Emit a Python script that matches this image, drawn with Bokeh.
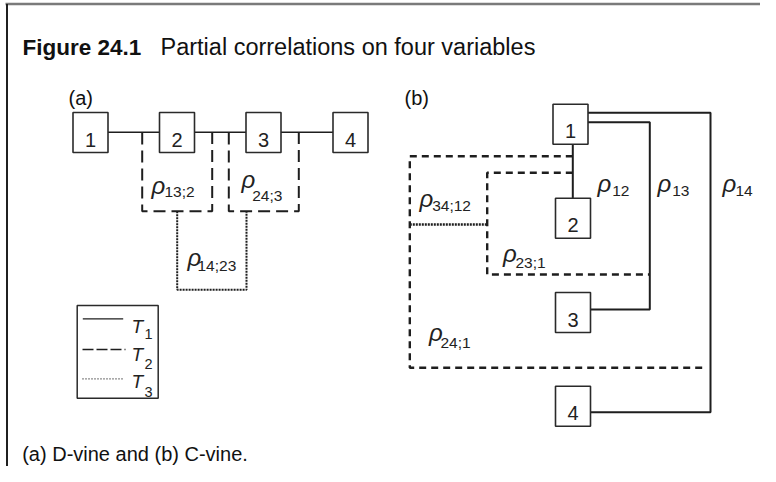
from bokeh.plotting import figure
from bokeh.models import Range1d
from bokeh.embed import file_html
from bokeh.resources import INLINE
from bokeh.core.properties import value

FONT = "Liberation Sans"
INK = "#1e1e1e"

# ---------------- data ----------------
title_bold = "Figure 24.1"
title_rest = "Partial correlations on four variables"
caption = "(a) D-vine and (b) C-vine."
panel_labels = ["(a)", "(b)"]
panel_label_x = [68, 404]
panel_label_y = [97, 97]

# panel (a): D-vine nodes
nodes_a = ["1", "2", "3", "4"]
nodes_a_x = [90, 176.5, 263, 350]
nodes_a_y = [132, 132, 132, 132]

# panel (b): C-vine nodes
nodes_b = ["1", "2", "3", "4"]
nodes_b_x = [570, 572.5, 572.5, 572.5]
nodes_b_y = [123.7, 217.8, 312, 405.8]

box_w = 35
box_h = 40

# tree T1 (solid) edges
t1_a_xs = [[107, 159], [194, 246], [280, 333]]
t1_a_ys = [[131.7, 131.7], [131.7, 131.7], [131.7, 131.7]]
t1_b_xs = [[587, 710, 710, 590], [587, 649.3, 649.3, 590], [572.3, 572.3]]
t1_b_ys = [[112.3, 112.3, 411.7, 411.7], [121.7, 121.7, 309, 309], [143.5, 198]]

# tree T2 (dashed) edges
t2_a_xs = [[141.7, 141.7, 211.7, 211.7], [228.3, 228.3, 298.3, 298.3]]
t2_a_ys = [[132, 210.7, 210.7, 132], [132, 210.7, 210.7, 132]]
t2_b_xs = [[572.3, 409.3, 409.3, 703], [572.3, 486.7, 486.7, 649.3]]
t2_b_ys = [[155.7, 155.7, 367.3, 367.3], [172.3, 172.3, 274, 274]]

# tree T3 (dotted) edges
t3_a_xs = [[176.7, 176.7, 246, 246]]
t3_a_ys = [[210.7, 289.3, 289.3, 210.7]]
t3_b_xs = [[409.3, 486.7]]
t3_b_ys = [[224, 224]]

# correlation labels: subscript, rho left x, rho baseline y, sub left x, sub baseline y
rho_sub = ["13;2", "24;3", "14;23", "12", "13", "14", "34;12", "23;1", "24;1"]
rho_x = [151, 241, 187, 597, 657, 722, 419, 502.5, 428.5]
rho_y = [185, 178.5, 257, 183, 183, 183, 198, 253, 332]
sub_x = [164, 251.7, 197, 611.7, 671.7, 735, 431.7, 515, 440]
sub_y = [190.5, 195, 265, 190, 190, 190, 205, 261.5, 341.5]

# legend
legend_labels = ["T", "T", "T"]
legend_subs = ["1", "2", "3"]
legend_line_y = [318.3, 349, 378.3]
legend_t_y = [326, 354, 381]
legend_sub_y = [333, 363, 391]

# ---------------- figure ----------------
p = figure(width=760, height=466, x_range=Range1d(0, 760), y_range=Range1d(466, 0),
           output_backend="svg", toolbar_location=None, min_border=0,
           x_axis_location=None, y_axis_location=None)
p.grid.visible = False
p.outline_line_color = None
p.background_fill_color = "white"
p.border_fill_color = "white"

# frame
p.line([5, 760], [3.5, 3.5], line_color="#7a7a7a", line_width=2.5)
p.line([6.5, 6.5], [3.5, 466], line_color="#202020", line_width=2)

# title + caption
p.text([22], [46.5], text=[title_bold], text_font=value(FONT), text_font_style="bold",
       text_font_size="22.5px", text_baseline="alphabetic", text_color="#111111")
p.text([160], [46.5], text=[title_rest], text_font=value(FONT),
       text_font_size="23.5px", text_baseline="alphabetic", text_color="#111111")
p.text([21.7], [453], text=[caption], text_font=value(FONT),
       text_font_size="20px", text_baseline="alphabetic", text_color="#111111")
p.text(panel_label_x, panel_label_y, text=panel_labels, text_font=value(FONT),
       text_font_size="20px", text_baseline="alphabetic", text_color="#111111")

# edges
p.multi_line(t1_a_xs, t1_a_ys, line_color=INK, line_width=1.6)
p.multi_line(t1_b_xs, t1_b_ys, line_color=INK, line_width=2)
p.multi_line(t2_a_xs, t2_a_ys, line_color=INK, line_width=2, line_dash="12 6")
p.multi_line(t2_b_xs, t2_b_ys, line_color=INK, line_width=2.4, line_dash="7 5")
p.multi_line(t3_a_xs, t3_a_ys, line_color=INK, line_width=2, line_dash="2 1")
p.multi_line(t3_b_xs, t3_b_ys, line_color=INK, line_width=2.4, line_dash="2 1")

# nodes
p.rect(nodes_a_x, nodes_a_y, width=box_w, height=box_h, fill_color="white",
       line_color="#2a2a2a", line_width=1.6)
p.rect(nodes_b_x, nodes_b_y, width=box_w, height=box_h, fill_color="white",
       line_color="#2a2a2a", line_width=1.6)
p.text(nodes_a_x, [y + 7 for y in nodes_a_y], text=nodes_a, text_font=value(FONT),
       text_font_size="20px", text_align="center", text_baseline="alphabetic",
       text_color="#222222")
p.text(nodes_b_x, [y + 7 for y in nodes_b_y], text=nodes_b, text_font=value(FONT),
       text_font_size="20px", text_align="center", text_baseline="alphabetic",
       text_color="#222222")

# rho labels
p.text(rho_x, rho_y, text=["\u03c1"] * len(rho_sub), text_font=value(FONT),
       text_font_style="italic", text_font_size="24px", text_baseline="alphabetic",
       text_color="#222222")
p.text(sub_x, sub_y, text=rho_sub, text_font=value(FONT), text_font_size="15.5px",
       text_baseline="alphabetic", text_color="#222222")

# legend
p.quad(left=[76.7], right=[157.7], top=[305], bottom=[397.7], fill_color="white",
       line_color="#2a2a2a", line_width=1.5)
p.line([82.3, 122.7], [legend_line_y[0]] * 2, line_color=INK, line_width=1.3)
p.line([82, 125], [legend_line_y[1]] * 2, line_color=INK, line_width=1.3, line_dash="11 3")
p.line([82, 122], [legend_line_y[2]] * 2, line_color=INK, line_width=1.3, line_dash="1 2")
p.text([131] * 3, legend_t_y, text=legend_labels, text_font=value(FONT),
       text_font_style="italic", text_font_size="19px", text_baseline="alphabetic",
       text_color="#222222")
p.text([144] * 3, legend_sub_y, text=legend_subs, text_font=value(FONT),
       text_font_size="14.5px", text_baseline="alphabetic", text_color="#222222")

open("out.html", "w").write(file_html(p, INLINE))
